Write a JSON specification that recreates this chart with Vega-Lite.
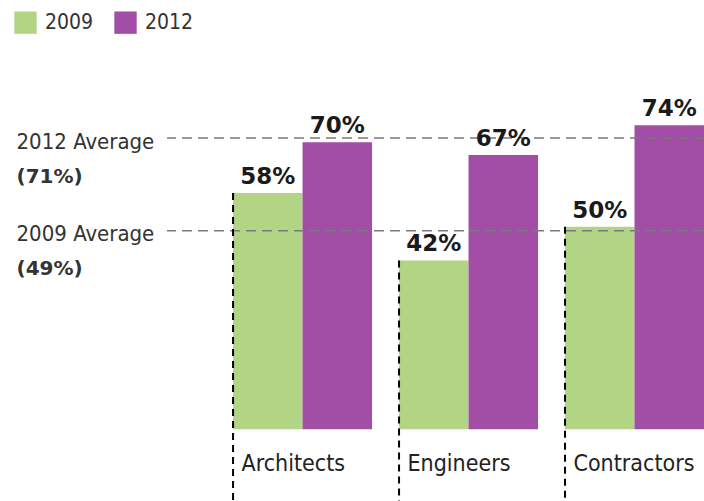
{
  "$schema": "https://vega.github.io/schema/vega-lite/v6.json",
  "width": 537,
  "height": 501,
  "autosize": "none",
  "padding": {"left": 167, "top": 0, "right": 0, "bottom": 0},
  "background": "white",
  "config": {"view": {"stroke": null}},
  "datasets": {
    "bars": [
      {"cat": "Architects", "year": "2009", "value": 58, "label": "58%"},
      {"cat": "Architects", "year": "2012", "value": 70, "label": "70%"},
      {"cat": "Engineers", "year": "2009", "value": 42, "label": "42%"},
      {"cat": "Engineers", "year": "2012", "value": 67, "label": "67%"},
      {"cat": "Contractors", "year": "2009", "value": 50, "label": "50%"},
      {"cat": "Contractors", "year": "2012", "value": 74, "label": "74%"}
    ],
    "avg": [
      {"name": "2012 Average", "pct": "(71%)", "value": 71},
      {"name": "2009 Average", "pct": "(49%)", "value": 49}
    ]
  },
  "resolve": {"axis": {"y": "independent"}},
  "layer": [
    {
      "data": {"name": "bars"},
      "mark": {"type": "bar"},
      "encoding": {
        "x": {"field": "cat", "type": "nominal", "sort": ["Architects", "Engineers", "Contractors"],
          "scale": {"paddingInner": 0.1627, "paddingOuter": 0.199, "align": 1},
          "axis": {"title": null, "domain": false, "ticks": false, "tickSize": 0, "labelAlign": "left", "labelOffset": -61, "labelPadding": -31, "labelFontSize": 23, "labelFont": "DejaVu Sans Condensed", "labelColor": "#222", "labelAngle": 0, "labelBaseline": "alphabetic", "labelOverlap": false, "grid": false}},
        "xOffset": {"field": "year", "type": "nominal", "scale": {"paddingInner": 0, "paddingOuter": 0}},
        "y": {"field": "value", "type": "quantitative", "scale": {"domain": [-15, 103.7], "nice": false, "zero": false}, "axis": null},
        "y2": {"datum": 2},
        "color": {"field": "year", "type": "nominal", "scale": {"domain": ["2009", "2012"], "range": ["#b2d485", "#a24da6"]},
          "legend": {"title": null, "orient": "none", "legendX": -153, "legendY": 11, "direction": "horizontal", "symbolType": "square", "symbolSize": 500, "symbolStrokeWidth": 0, "symbolOpacity": 1, "labelFontSize": 21, "labelFont": "DejaVu Sans Condensed", "labelColor": "#333", "columnPadding": 20, "labelOffset": 8, "padding": 0}}
      }
    },
    {
      "data": {"name": "avg"},
      "mark": {"type": "rule", "strokeDash": [10, 6], "color": "#7a7a7a", "strokeWidth": 1.5},
      "encoding": {
        "y": {"field": "value", "type": "quantitative",
          "axis": {"orient": "left", "values": [71, 49], "labelExpr": "datum.value == 71 ? '2012 Average' : '2009 Average'", "title": null, "domain": false, "ticks": false, "tickSize": 0, "grid": false, "labelAlign": "left", "labelPadding": 151, "labelBaseline": "middle", "labelOffset": 3, "labelFontSize": 22, "labelFont": "DejaVu Sans Condensed", "labelColor": "#333", "labelOverlap": false, "labelFlush": false}}
      }
    },
    {
      "data": {"name": "avg"},
      "mark": {"type": "rule", "opacity": 0},
      "encoding": {
        "y": {"field": "value", "type": "quantitative",
          "axis": {"orient": "left", "values": [71, 49], "labelExpr": "datum.value == 71 ? '(71%)' : '(49%)'", "title": null, "domain": false, "ticks": false, "tickSize": 0, "grid": false, "labelAlign": "left", "labelPadding": 151, "labelBaseline": "middle", "labelOffset": 38, "labelFontSize": 20, "labelFont": "DejaVu Sans", "labelFontWeight": "bold", "labelColor": "#333", "labelOverlap": false, "labelFlush": false}}
      }
    },
    {
      "data": {"name": "bars"},
      "transform": [{"filter": "datum.year == '2009'"}],
      "mark": {"type": "rule", "strokeDash": [7, 5], "color": "#000", "strokeWidth": 2},
      "encoding": {
        "x": {"field": "cat", "type": "nominal", "sort": ["Architects", "Engineers", "Contractors"], "bandPosition": 0,
          "axis": {"title": null, "domain": false, "ticks": false, "tickSize": 0, "labelAlign": "left", "labelOffset": -61, "labelPadding": -31, "labelFontSize": 23, "labelFont": "DejaVu Sans Condensed", "labelColor": "#222", "labelAngle": 0, "labelBaseline": "alphabetic", "labelOverlap": false, "grid": false}},
        "y": {"field": "value", "type": "quantitative", "axis": null},
        "y2": {"datum": -15}
      }
    },
    {
      "data": {"name": "bars"},
      "mark": {"type": "text", "baseline": "alphabetic", "dy": -9, "font": "DejaVu Sans", "fontWeight": "bold", "fontSize": 23, "color": "#1a1a1a"},
      "encoding": {
        "x": {"field": "cat", "type": "nominal", "sort": ["Architects", "Engineers", "Contractors"],
          "axis": {"title": null, "domain": false, "ticks": false, "tickSize": 0, "labelAlign": "left", "labelOffset": -61, "labelPadding": -31, "labelFontSize": 23, "labelFont": "DejaVu Sans Condensed", "labelColor": "#222", "labelAngle": 0, "labelBaseline": "alphabetic", "labelOverlap": false, "grid": false}},
        "xOffset": {"field": "year", "type": "nominal"},
        "y": {"field": "value", "type": "quantitative", "axis": null},
        "text": {"field": "label", "type": "nominal"}
      }
    }
  ]
}
